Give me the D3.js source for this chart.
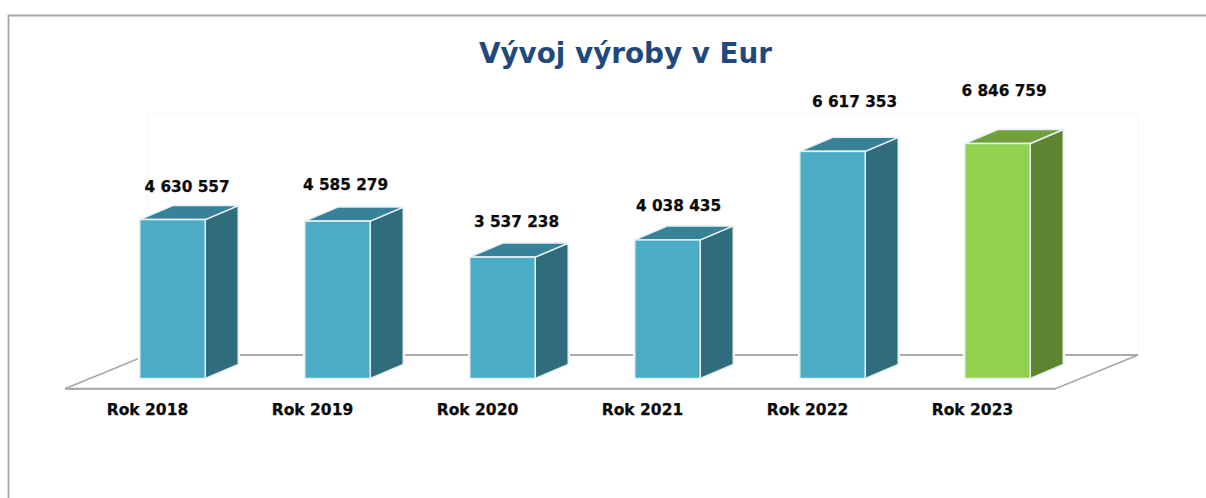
<!DOCTYPE html>
<html><head><meta charset="utf-8">
<script src="https://cdn.jsdelivr.net/npm/d3@7"></script>
<style>html,body{margin:0;padding:0;background:#fff;overflow:hidden}svg{display:block}
text{font-family:"DejaVu Sans",sans-serif;font-weight:700}</style></head>
<body><svg id="c" width="1206" height="498"></svg>
<script>
const categories = ["Rok 2018","Rok 2019","Rok 2020","Rok 2021","Rok 2022","Rok 2023"];
const values = [4630557,4585279,3537238,4038435,6617353,6846759];
const highlighted = ["Rok 2023"];
const titleText = "Vývoj výroby v Eur";

const svg = d3.select("#c");
const x = d3.scaleBand().domain(categories).range([90,1080]).paddingInner(0.603).paddingOuter(0.3015);
const y = d3.scaleLinear().domain([0,6846759]).range([378.5,143.5]);
const fmt = v => d3.format(",")(v).replace(/,/g," ");
const depth = {dx:33,dy:-14};
// hand-placed data label offsets in the original, relative to the bar centre / top
const labelDx = [14.5,8,14,11,22,6.5];
const labelDy = [-28,-31,-30,-29,-44,-48];

const grey = "#a6a6a6";
svg.append("path").attr("d","M8.5,498V15.5H1206").attr("fill","none").attr("stroke",grey).attr("stroke-width",1.8);
svg.append("path").attr("d","M147.5,355V113.5H1138.5V355").attr("fill","none").attr("stroke","#f8f8f8").attr("stroke-width",1);
svg.append("path").attr("d","M65,388.8H1055.5L1138,355H147Z").attr("fill","#fff").attr("stroke",grey).attr("stroke-width",1.5);
svg.append("line").attr("x1",65).attr("x2",1055.5).attr("y1",388.8).attr("y2",388.8).attr("stroke",grey).attr("stroke-width",2);
svg.append("line").attr("x1",147).attr("x2",1138).attr("y1",355).attr("y2",355).attr("stroke",grey).attr("stroke-width",1.7);

const bars = svg.append("g").selectAll("g").data(categories.map((c,i)=>({c,v:values[i],i}))).join("g");
const colour = d => highlighted.includes(d.c)
  ? {front:"#92d14f",side:"#5f8431",top:"#709f3c"}
  : {front:"#4bacc6",side:"#316c7d",top:"#378299"};
const edge = "#e6f1f4";
bars.append("path").attr("fill","#fff").attr("stroke","#fff").attr("stroke-width",3.5)
  .attr("d",d=>{const l=x(d.c),r=l+x.bandwidth(),t=y(d.v),b=y(0);
    return `M${l},${b}V${t}L${l+depth.dx},${t+depth.dy}H${r+depth.dx}V${b+depth.dy}L${r},${b}Z`;});
bars.append("path").attr("fill",d=>colour(d).side).attr("stroke",edge).attr("stroke-width",1.5).attr("stroke-linejoin","round")
  .attr("d",d=>{const r=x(d.c)+x.bandwidth(),t=y(d.v),b=y(0);
    return `M${r},${b}V${t}L${r+depth.dx},${t+depth.dy}V${b+depth.dy}Z`;});
bars.append("path").attr("fill",d=>colour(d).top).attr("stroke",edge).attr("stroke-width",1.5).attr("stroke-linejoin","round")
  .attr("d",d=>{const l=x(d.c),r=l+x.bandwidth(),t=y(d.v);
    return `M${l},${t}L${l+depth.dx},${t+depth.dy}H${r+depth.dx}L${r},${t}Z`;});
bars.append("rect").attr("fill",d=>colour(d).front).attr("stroke",edge).attr("stroke-width",1.5)
  .attr("x",d=>x(d.c)).attr("y",d=>y(d.v)).attr("width",x.bandwidth()).attr("height",d=>y(0)-y(d.v));
bars.append("text").attr("text-anchor","middle").attr("font-size",15.3).attr("fill","#0a0a0a")
  .attr("stroke","#0a0a0a").attr("stroke-width",0.25)
  .attr("x",d=>x(d.c)+x.bandwidth()/2+labelDx[d.i]).attr("y",d=>y(d.v)+labelDy[d.i]).text(d=>fmt(d.v));

const axis = svg.append("g").attr("transform","translate(-25,404)")
  .call(d3.axisBottom(x).tickSize(0).tickPadding(0));
axis.select(".domain").remove();
axis.selectAll("text").attr("font-size",15.5).attr("fill","#0a0a0a").attr("stroke","#0a0a0a").attr("stroke-width",0.25)
  .style("font-family",'"DejaVu Sans",sans-serif').style("font-weight",700).attr("dy","0.71em");

svg.append("text").attr("x",625.5).attr("y",63).attr("text-anchor","middle").attr("font-size",27.8).attr("fill","#1f497d").text(titleText);
</script></body></html>
